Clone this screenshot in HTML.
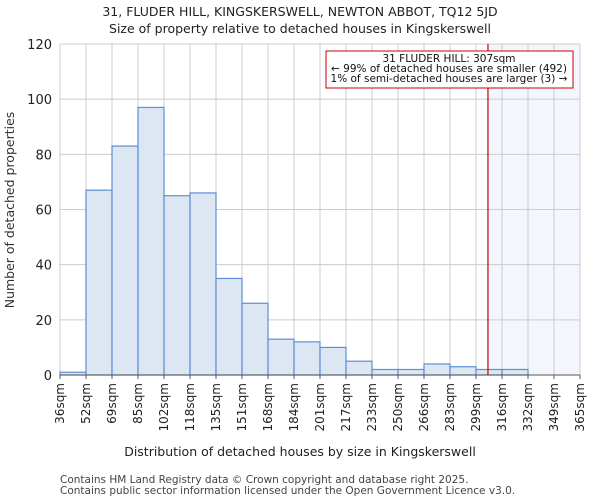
<!DOCTYPE html>
<html><head><meta charset="utf-8"><style>
body{margin:0;background:#fff;font-family:"DejaVu Sans","Liberation Sans",sans-serif}
svg text{font-family:"DejaVu Sans","Liberation Sans",sans-serif}
</style></head><body>
<svg id="chart" width="600" height="500" xmlns="http://www.w3.org/2000/svg">
<text x="300" y="16" text-anchor="middle" font-size="12.5" fill="#222">31, FLUDER HILL, KINGSKERSWELL, NEWTON ABBOT, TQ12 5JD</text>
<text x="300" y="33" text-anchor="middle" font-size="12.5" fill="#222">Size of property relative to detached houses in Kingskerswell</text>
<g id="grid"></g><g id="bars"></g><g id="axes"></g>
<text transform="translate(14,210) rotate(-90)" text-anchor="middle" font-size="12.5" fill="#333">Number of detached properties</text>
<text x="300" y="456" text-anchor="middle" font-size="12.5" fill="#222">Distribution of detached houses by size in Kingskerswell</text>
<text x="60" y="483" font-size="10.5" fill="#444">Contains HM Land Registry data © Crown copyright and database right 2025.</text>
<text x="60" y="494" font-size="10.5" fill="#444">Contains public sector information licensed under the Open Government Licence v3.0.</text>
</svg>
<script>
const tickLabels=["36sqm","52sqm","69sqm","85sqm","102sqm","118sqm","135sqm","151sqm","168sqm","184sqm","201sqm","217sqm","233sqm","250sqm","266sqm","283sqm","299sqm","316sqm","332sqm","349sqm","365sqm"];
const counts=[1,67,83,97,65,66,35,26,13,12,10,5,2,2,4,3,2,2,0,0];
const yTicks=[0,20,40,60,80,100,120];
const markerIndex=16.46;
const NS="http://www.w3.org/2000/svg";
const L=60,R=580,T=44,B=375,yMax=120;
const xs=i=>L+i*(R-L)/counts.length;
const ys=v=>B-v/yMax*(B-T);
function mk(p,tag,a){const e=document.createElementNS(NS,tag);for(const k in a)e.setAttribute(k,a[k]);p.appendChild(e);return e;}
const grid=document.getElementById('grid'),bars=document.getElementById('bars'),axes=document.getElementById('axes');
const mx=xs(markerIndex);
const shade=mk(grid,'rect',{x:mx,y:T,width:R-mx,height:B-T,fill:'#f3f6fc'});


yTicks.forEach(v=>{
 const g=mk(grid,'line',{x1:L,x2:R,y1:ys(v),y2:ys(v),stroke:'#cccccc'});
 
 
 const t=mk(axes,'text',{x:L-8,y:ys(v)+5,'text-anchor':'end','font-size':13,fill:'#222'});
 t.textContent=v;
 
 
});
tickLabels.forEach((s,i)=>{
 const x=xs(i);
 const g=mk(grid,'line',{x1:x,x2:x,y1:T,y2:B,stroke:'#cccccc'});
 
 
 mk(axes,'line',{x1:x,x2:x,y1:B,y2:B+4,stroke:'#555'});
 const t=mk(axes,'text',{transform:`translate(${x+4},${B+8}) rotate(-90)`,'text-anchor':'end','font-size':12,fill:'#222'});
 t.textContent=s;
 
 
});
counts.forEach((c,i)=>{
 if(c<=0)return;
 const r=mk(bars,'rect',{x:xs(i),y:ys(c),width:xs(i+1)-xs(i),height:B-ys(c),fill:'#dde7f4',stroke:'#5b8fd6','stroke-width':1.2});
 
 
});
mk(axes,'line',{x1:L,x2:R,y1:B,y2:B,stroke:'#555'});
const ml=mk(axes,'line',{x1:mx,x2:mx,y1:T,y2:B,stroke:'#cc0000','stroke-width':1.2});


const box=mk(axes,'rect',{x:326,y:51,width:247,height:37,fill:'#fff',stroke:'#cc0000','stroke-width':1});


["31 FLUDER HILL: 307sqm","← 99% of detached houses are smaller (492)","1% of semi-detached houses are larger (3) →"].forEach((s,i)=>{
 const t=mk(axes,'text',{x:449,y:62+i*10,'text-anchor':'middle','font-size':10.5,fill:'#111'});
 t.textContent=s;
 
 
});
</script>
</body></html>
